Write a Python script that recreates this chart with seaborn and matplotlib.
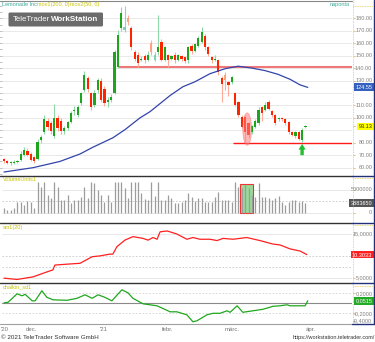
import numpy as np
import pandas as pd
import matplotlib
matplotlib.use("Agg")
import matplotlib.pyplot as plt
import seaborn as sns
from matplotlib.lines import Line2D
from matplotlib.patches import Rectangle, Ellipse, FancyBboxPatch
import matplotlib.transforms as mtrans

# ---------------- data ----------------
opens = [67, 65, 64, 63.5, 64.5, 66, 70.3, 73.5, 71.3, 68.2,
         67.1, 82, 88.3, 97.8, 95.7, 85.1, 100, 97.8, 89.3, 91.5,
         96.7, 105.2, 102, 111.6, 122.1, 131.7, 120, 110.5, 122.1, 129.5,
         123.2, 112.6, 114.7, 120, 141.2, 171.9, 170.8, 180.3, 171.9, 152.8,
         150.7, 146.5, 149.6, 146.5, 160.2, 146.5, 152.8, 161.3, 146.5, 150.7,
         147.5, 150.7, 146.5, 149.6, 148.6, 146.5, 158.1, 153.9, 158.1, 161.3,
         165.5, 157, 148.6, 146.5, 146.5, 131.7, 134.8, 128.5, 128.5, 120,
         112.6, 101, 101, 95.7, 88.3, 92.5, 95.7, 108.4, 106.3, 112.6,
         105.2, 102, 98.9, 99.9, 98.9, 96.7, 88.3, 85.1, 88.3, 81.9, 92.5]
closes = [65, 64, 64.5, 64.5, 65, 71.3, 74.5, 70.3, 66, 65,
          80.9, 85, 98.9, 92.5, 89.3, 100, 91.5, 89.3, 91.5, 96.7,
          104.1, 106.3, 108.4, 120, 134.8, 123.2, 108.4, 120, 130.6, 114.7,
          111.6, 114.7, 116.8, 152.8, 166.6, 184.6, 172.9, 177.1, 157, 147.5,
          144.4, 147, 146.5, 150.7, 152.8, 150.7, 157, 146.5, 157, 146.5,
          149.6, 146.5, 150.7, 147.5, 145.4, 157, 153.9, 159.2, 164.5, 168.7,
          157, 151.7, 146.5, 147.5, 137, 127.4, 130.6, 126.4, 132.7, 110.5,
          102, 92.5, 88.3, 86.2, 93.6, 97.8, 106.3, 104.1, 110.5, 107.3,
          102, 95.7, 99.9, 98.9, 95.7, 88.3, 86.2, 88.3, 83, 90.4, 93.1]
highs = [68, 66, 65, 66, 66, 73.5, 76.6, 75.6, 72.4, 69.2,
         83, 86.2, 102, 100, 97.8, 111.5, 102, 100, 93.6, 97.8,
         105.2, 109.4, 110.5, 121.1, 138, 133.8, 121.1, 122.1, 131.7, 131.7,
         125.3, 116.8, 119, 154.9, 170.8, 188.8, 189.8, 182.4, 174, 154.9,
         152.8, 149.6, 151.7, 153.9, 162.3, 152.8, 182.4, 163.4, 158.1, 151.7,
         150.7, 152.8, 151.7, 150.7, 149.6, 158.1, 159.2, 160.2, 165.5, 172.9,
         167.6, 158.1, 149.6, 150.7, 147.5, 133.8, 137, 129.5, 133.8, 121.1,
         113.7, 102, 102, 96.7, 94.6, 98.9, 108.4, 109.4, 112.6, 114.7,
         106.3, 103, 101, 101, 99.9, 97.8, 89.3, 89.3, 89.3, 91.5, 94.6]
lows = [64, 63, 62, 63, 63.5, 65, 69.2, 69.2, 65, 64,
        66, 79.8, 87.2, 90.4, 87.2, 84, 89.3, 87.2, 87.2, 90.4,
        95.7, 102, 101, 110.5, 121.1, 121.1, 106.3, 108.4, 120, 112.6,
        109.4, 108.4, 112.6, 119, 140.1, 169.7, 168.7, 175, 154.9, 145.4,
        141.2, 145.4, 144.4, 145.4, 150.7, 145.4, 150.7, 145.4, 145.4, 141.2,
        146.5, 144.4, 145.4, 145.4, 144.4, 144.4, 151.7, 152.8, 157, 160.2,
        154.9, 149.6, 144.4, 145.4, 134.8, 112.6, 122.1, 117.9, 127.4, 109.4,
        101, 91.5, 80.9, 84, 87.2, 91.5, 94.6, 97.8, 105.2, 106.3,
        101, 94.6, 97.8, 97.8, 94.6, 87.2, 85.1, 84, 81.9, 80.9, 91.5]
volumes_m = [1.0, 0.7, 0.6, 1.0, 2.3, 2.4, 1.8, 2.6, 2.4, 1.1,
             6.7, 5.6, 6.7, 3.9, 3.2, 6.7, 5.7, 2.9, 2.8, 3.9,
             2.1, 2.8, 2.8, 3.5, 5.7, 3.2, 6.7, 6.5, 5.0, 4.0,
             2.4, 3.9, 2.3, 6.7, 6.7, 6.7, 5.4, 3.2, 6.7, 6.7,
             6.7, 4.3, 3.0, 2.8, 6.7, 3.7, 6.7, 2.8, 2.8, 3.9,
             3.2, 2.1, 2.1, 2.4, 2.8, 4.3, 3.5, 2.6, 3.2, 3.2,
             2.4, 2.3, 2.3, 3.4, 4.5, 2.9, 2.8, 2.8, 2.3, 6.7,
             5.7, 5.4, 6.1, 5.4, 3.9, 3.5, 6.5, 3.5, 3.5, 3.2,
             2.8, 3.3, 3.7, 2.4, 1.8, 2.4, 2.8, 2.8, 2.4, 2.6, 2.1]

ma_idx = [0, 8.7, 16.7, 22.7, 26.6, 32.5, 36.1, 40.6, 43.6, 49.6, 53.4,
          57, 61.5, 66, 69.9, 74, 77.9, 81.8, 85.4, 88.4, 90.7]
ma_val = [56.5, 60, 65, 71, 76.5, 84, 90.5, 100, 105, 118, 125,
          129, 135.5, 139.5, 141.5, 140, 138, 135, 131, 126.5, 124.5]

sm1_idx = [0, 3.9, 8.7, 11.6, 14.6, 15.2, 18.8, 22.7, 26.3, 28.7, 31.6, 32.5,
           33.7, 36.1, 38.5, 41.5, 43, 44.5, 45.7, 46.6, 48.7, 51.6, 54.6,
           56.4, 58.5, 61.5, 63.6, 65.4, 68.4, 72.5, 76.4, 80.3, 82.4, 85.4,
           88.4, 90.4]
sm1_val = [4.9, 4.6, 5.2, 6.0, 6.8, 7.9, 8.1, 8.3, 9.8, 10.0, 10.4, 10.4,
           12.1, 13.6, 14.4, 14.0, 13.6, 14.2, 13.8, 15.5, 15.7, 15.0, 13.8,
           14.2, 13.8, 13.8, 13.5, 14.0, 13.8, 14.2, 13.5, 12.7, 12.5, 11.6,
           11.1, 10.3]

ch_idx = [0, 1.2, 3.9, 5.4, 6.3, 8.4, 9.3, 11.3, 12.8, 14.6, 18.8, 21.8,
          24.2, 26.3, 28.1, 30.1, 32.2, 35.2, 37, 38.5, 41.5, 45.7, 49.6,
          51.6, 54.6, 56.4, 57.6, 60.6, 62.4, 64.5, 66.6, 67.5, 69.6, 71.3,
          74.3, 77.3, 80.3, 82.4, 84.5, 85.4, 88.4, 89.9, 90.7]
ch_val = [0.01, 0.02, 0.19, 0.15, 0.18, 0.05, 0.05, 0.25, 0.12, 0.07, 0.06,
          0.10, 0.17, 0.10, 0.17, 0.12, 0.05, 0.27, 0.21, 0.10, -0.01, -0.05,
          -0.17, -0.17, -0.23, -0.37, -0.35, -0.23, -0.20, -0.20, -0.15, -0.18,
          -0.05, -0.18, -0.15, -0.12, -0.06, -0.05, -0.03, -0.05, -0.05, -0.05,
          0.05]

level_values = [141, 80]
level_starts = [34.3, 68.4]

month_pos = [0.3, 8.1, 29.7, 49, 68.2, 91.6]
month_labels = ["'20", "dec.", "'21", "febr.", "márc.", "ápr."]

price_ticks = [180, 170, 160, 150, 140, 130, 110, 100, 80, 70, 60]
last_ma, last_close = 124.55, 93.13
vol_ticks = [5, 0]
vol_tick_labels = ["5000000", "0"]
vol_box_text = "3883650"
sm1_ticks = [15, 5]
sm1_tick_labels = ["15,0000", "5,0000"]
sm1_last = 10.3033
ch_ticks = [0.2, -0.2, -0.35]
ch_tick_labels = ["0,2000", "-0,2000", "-0,4000"]
ch_last = 0.0515

arrow_idx = 89
ellipse_idx = 72.6

# ---------------- figure ----------------
sns.set_style("white")
plt.rcParams["font.family"] = ["Liberation Sans", "DejaVu Sans"]

W, H = 375, 342
fig = plt.figure(figsize=(W / 100, H / 100), dpi=100)
fig.patch.set_facecolor("white")

X0, X1 = 2, 352
XL = (-0.6, 103.9)


def px_axes(y0, y1):
    ax = fig.add_axes([X0 / W, 1 - y1 / H, (X1 - X0) / W, (y1 - y0) / H])
    ax.set_xlim(*XL)
    for s in ax.spines.values():
        s.set_visible(False)
    ax.set_xticks([])
    ax.set_facecolor("white")
    ax.set_xlabel("")
    ax.set_ylabel("")
    return ax


def fline(x0, y0, x1, y1, color, lw=0.72, ls="-"):
    fig.add_artist(Line2D([x0 / W, x1 / W], [1 - y0 / H, 1 - y1 / H],
                          transform=fig.transFigure, color=color, lw=lw, ls=ls))


def ftext(x, y, s, **kw):
    fig.text(x / W, 1 - y / H, s, **kw)


def rlabel(ax, val, s, color="#808080", box=None):
    tr = mtrans.blended_transform_factory(fig.transFigure, ax.transData)
    kw = dict(transform=tr, ha="right", va="center", fontsize=4, color=color, clip_on=False)
    if box is not None:
        kw["bbox"] = dict(boxstyle="square,pad=0.25", fc=box, ec="none")
    ax.text(372.3 / W, val, s, **kw)
    ax.plot([352.5 / W, 355 / W], [val, val], transform=tr, color="#e0c060", lw=0.6, clip_on=False)


n = min(len(opens), len(closes), len(highs), len(lows))
idx = np.arange(n)

# ---------- main price panel ----------
ax = px_axes(1, 176)
ax.set_ylim(53.3, 193.9)
ax.set_yticks(np.arange(55, 195, 5))
ax.tick_params(axis="y", left=True, length=2, width=0.5, color="#aaaaaa", labelleft=False, direction="out")
for v in range(60, 190, 10):
    ax.axhline(v, color="#e9e9e9", lw=0.7, zorder=0)

for lv, ls0 in zip(level_values, level_starts):
    col = "#f07878" if lv > 100 else "#ff1a1a"
    lw = 1.5 if lv > 100 else 1.0
    ax.hlines(lv, ls0, XL[1], color=col, lw=lw, zorder=2)

up_d, up_l = "#1ea51e", "#7fd0b0"
dn_d, dn_l = "#ff2400", "#ffa27f"
for i in range(n):
    o, c, h, l = opens[i], closes[i], highs[i], lows[i]
    prev = closes[i - 1] if i > 0 else o
    if c >= o:
        col = up_d if c >= prev else up_l
        wcol = "#8fd8a8"
    else:
        col = dn_d if c <= prev else dn_l
        wcol = "#ffab9a"
    ax.vlines(i, l, h, color=wcol, lw=0.8, zorder=3)
    ax.bar(i, max(abs(c - o), 0.5), bottom=min(o, c), width=0.66, color=col, lw=0, zorder=4)

ax.add_patch(Ellipse((ellipse_idx, 91), width=2.6, height=26, fc="#ff8080", ec="#ff7070",
                     alpha=0.55, lw=0.6, zorder=5))

ma_df = pd.DataFrame({"i": ma_idx, "v": ma_val})
sns.lineplot(data=ma_df, x="i", y="v", ax=ax, color="#3344aa", lw=0.9,
             estimator=None, sort=False, legend=False, zorder=6)
ax.set_xlabel("")
ax.set_ylabel("")
ax.set_xlim(*XL)
ax.set_xticks([])

ax.annotate("", xy=(arrow_idx, 79), xytext=(arrow_idx, 70),
            arrowprops=dict(arrowstyle="simple,head_length=0.5,head_width=0.65,tail_width=0.3",
                            mutation_scale=8, fc="#1fbf2f", ec="none",
                            shrinkA=0, shrinkB=0), zorder=7)

for v in price_ticks:
    rlabel(ax, v, f"{v:.2f}")
rlabel(ax, last_ma, f"{last_ma:.2f}", color="white", box="#3460c0")
rlabel(ax, last_close, f"{last_close:.2f}", color="#333300", box="#ffff00")

# ---------- volume panel ----------
axv = px_axes(176, 222.5)
axv.set_ylim(-2.16, 8.08)
axv.set_yticks([])
axv.axhline(5, color="#e4e4e4", lw=0.6, zorder=0)
axv.axhline(2.5, color="#c8c8c8", lw=0.6, ls=(0, (2, 2)), zorder=0)
axv.axhline(0, color="#e4e4e4", lw=0.6, zorder=0)
axv.add_patch(Rectangle((70.4, 0), 4.0, 6.32, fc="#9ad99a", ec="#ee3333", lw=0.8, zorder=1))
nv = len(volumes_m)
axv.vlines(np.arange(nv), 0, volumes_m, color="#9c9c9c", lw=0.9, zorder=2)
for v, s in zip(vol_ticks, vol_tick_labels):
    rlabel(axv, v, s)
rlabel(axv, volumes_m[-1], vol_box_text, color="white", box="#555555")

# ---------- sm1 panel ----------
axs = px_axes(223, 282)
axs.set_ylim(4.02, 17.52)
axs.set_yticks([])
axs.axhline(15, color="#e4e4e4", lw=0.6, zorder=0)
axs.axhline(10, color="#c8c8c8", lw=0.6, ls=(0, (2, 2)), zorder=0)
axs.axhline(7.5, color="#c8c8c8", lw=0.6, ls=(0, (2, 2)), zorder=0)
axs.axhline(5, color="#e4e4e4", lw=0.6, zorder=0)
sm_df = pd.DataFrame({"i": sm1_idx, "v": sm1_val})
sns.lineplot(data=sm_df, x="i", y="v", ax=axs, color="#ff2020", lw=0.9,
             estimator=None, sort=False, legend=False)
axs.set_xlabel(""); axs.set_ylabel(""); axs.set_xlim(*XL); axs.set_xticks([])
for v, s in zip(sm1_ticks, sm1_tick_labels):
    rlabel(axs, v, s)
rlabel(axs, sm1_last, f"{sm1_last:.4f}".replace(".", ","), color="white", box="#ff2020")

# ---------- chaikin panel ----------
axc = px_axes(283.5, 323.5)
axc.set_ylim(-0.404, 0.396)
axc.set_yticks([])
axc.axhline(0.2, color="#d0d0d0", lw=0.6, ls=(0, (2, 2)), zorder=0)
axc.axhline(-0.2, color="#d0d0d0", lw=0.6, ls=(0, (2, 2)), zorder=0)
axc.axhline(0, color="#8a8a8a", lw=0.8, zorder=0)
ch_df = pd.DataFrame({"i": ch_idx, "v": ch_val})
sns.lineplot(data=ch_df, x="i", y="v", ax=axc, color="#1fa81f", lw=0.9,
             estimator=None, sort=False, legend=False)
axc.set_xlabel(""); axc.set_ylabel(""); axc.set_xlim(*XL); axc.set_xticks([])
for v, s in zip(ch_ticks, ch_tick_labels):
    rlabel(axc, v, s)
rlabel(axc, ch_last, f"{ch_last:.4f}".replace(".", ","), color="white", box="#22aa22")

# x labels (months)
trx = mtrans.blended_transform_factory(axc.transData, fig.transFigure)
for p, s in zip(month_pos, month_labels):
    axc.text(p, 1 - 329.5 / H, s, transform=trx, ha="center", va="center",
             fontsize=4.3, color="#777777", clip_on=False)

# ---------- frames ----------
fline(0, 0.5, 352, 0.5, "#888888", 0.8)
for y in [175.5, 222.5, 282.5]:
    fline(0, y, 352, y, "#333333", 1.0)
fline(0, 323.5, 352, 323.5, "#a0a0a0", 0.8)
fline(352.5, 0, 352.5, 323.5, "#e8c84a", 0.6, (0, (1, 1)))
fline(373.8, 0, 373.8, 323.8, "#22307a", 1.0)
for y in [175.5, 222.5, 282.5, 323.5]:
    fline(352, y, 374.3, y, "#22307a", 1.0)
for y in [6.2, 178, 225, 285.5]:
    fline(352.5, y, 373.3, y, "#e8c84a", 0.6, (0, (1, 1)))

# ---------- texts ----------
ftext(2, 4.5, "Lemonade Inc", color="#3fa89a", fontsize=4, va="center")
ftext(37, 4.5, "mov1(200, 0)", color="#c8c400", fontsize=4, va="center")
ftext(70, 4.5, "mov2(50, 0)", color="#c8c400", fontsize=4, va="center")
ftext(350, 4.5, "naponta", color="#3fa89a", fontsize=4, va="center", ha="right")
ftext(3, 179.5, "VolumeUnits1", color="#c8c400", fontsize=4, va="center")
ftext(3, 227, "sm1(20)", color="#c8c400", fontsize=4, va="center")
ftext(3, 287, "chaikin_sd1", color="#c8c400", fontsize=4, va="center")

fig.add_artist(FancyBboxPatch((8.5 / W, 1 - 26.5 / H), (103 - 8.5) / W, (26.5 - 12.5) / H,
                              boxstyle="round,pad=0,rounding_size=0.004",
                              transform=fig.transFigure, fc="#6b6b6b", ec="none"))
ftext(12.5, 19.8, "TeleTrader", color="white", fontsize=5.6, va="center")
ftext(50.5, 19.8, "WorkStation", color="white", fontsize=5.8, va="center", fontweight="bold")

ftext(1, 337.5, "© 2021 TeleTrader Software GmbH", color="#333333", fontsize=4.5, va="center")
ftext(374.5, 337.5, "https://workstation.teletrader.com/", color="#333333", fontsize=4,
      va="center", ha="right")

fig.savefig("out.png", dpi=100, facecolor="white")
